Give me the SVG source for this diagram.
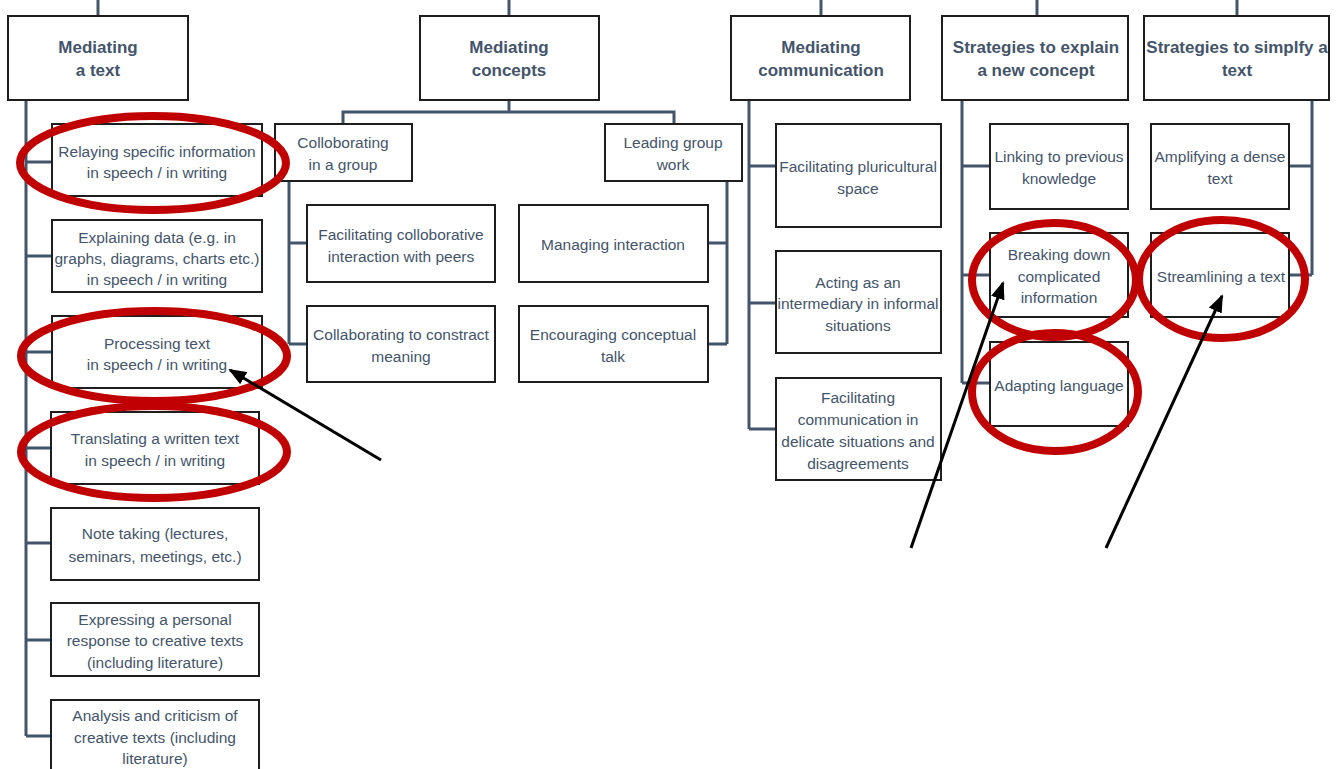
<svg xmlns="http://www.w3.org/2000/svg" width="1337" height="769" viewBox="0 0 1337 769">
  <style>
    .box { fill: #ffffff; stroke: #1e1e1e; stroke-width: 2; }
    .head { font-family: "Liberation Sans", Arial, sans-serif; font-weight: bold; font-size: 17px; fill: #44546a; text-anchor: middle; dominant-baseline: central; }
    .lbl { font-family: "Liberation Sans", Arial, sans-serif; font-size: 15.5px; fill: #44546a; text-anchor: middle; dominant-baseline: central; }
    .conn { fill: none; stroke: #44546a; stroke-width: 3; }
    .ring { fill: none; stroke: #c00000; stroke-width: 8; }
    .ptr { fill: none; stroke: #000000; stroke-width: 3; marker-end: url(#head); }
  </style>
  <defs>
    <marker id="head" markerUnits="userSpaceOnUse" markerWidth="18" markerHeight="14" refX="16" refY="7" orient="auto">
      <path d="M0,0 L18,7 L0,14 Z" fill="#000000"/>
    </marker>
  </defs>
  <rect width="1337" height="769" fill="#ffffff"/>

  <!-- tree connectors -->
  <g id="connectors" class="conn">
    <path d="M98,0 V16 M509,0 V16 M821,0 V16 M1037,0 V16 M1237,0 V16"/>
    <!-- Mediating a text -->
    <path d="M26,100 V736 M26,162 H52 M26,256 H52 M26,352 H52 M26,448 H51 M26,543 H51 M26,640 H51 M26,736 H51"/>
    <!-- Mediating concepts -->
    <path d="M509,100 V112 M343,124 V112 H674 V124"/>
    <path d="M289,181 V344 M289,243 H307 M289,344 H307"/>
    <path d="M727,181 V344 M708,243 H727 M708,344 H727"/>
    <!-- Mediating communication -->
    <path d="M749,100 V429 M749,166 H776 M749,303 H776 M749,429 H776"/>
    <!-- Strategies to explain -->
    <path d="M962,100 V383 M962,166 H990 M962,275 H990 M962,383 H990"/>
    <!-- Strategies to simplify -->
    <path d="M1312,100 V275 M1289,166 H1312 M1289,275 H1312"/>
  </g>

  <!-- top-level categories -->
  <g id="mediating-text">
    <rect class="box" x="8" y="16" width="180" height="84"/>
    <text class="head" x="98" y="47">Mediating</text>
    <text class="head" x="98" y="70">a text</text>
  </g>
  <g id="mediating-concepts">
    <rect class="box" x="420" y="16" width="179" height="84"/>
    <text class="head" x="509" y="47">Mediating</text>
    <text class="head" x="509" y="70">concepts</text>
  </g>
  <g id="mediating-communication">
    <rect class="box" x="731" y="16" width="179" height="84"/>
    <text class="head" x="821" y="47">Mediating</text>
    <text class="head" x="821" y="70">communication</text>
  </g>
  <g id="strategies-explain">
    <rect class="box" x="942" y="16" width="186" height="84"/>
    <text class="head" x="1036" y="47">Strategies to explain</text>
    <text class="head" x="1036" y="70">a new concept</text>
  </g>
  <g id="strategies-simplify">
    <rect class="box" x="1144" y="16" width="185" height="84"/>
    <text class="head" x="1237" y="47">Strategies to simplfy a</text>
    <text class="head" x="1237" y="70">text</text>
  </g>

  <!-- Mediating a text: activities -->
  <g id="relaying">
    <rect class="box" x="52" y="124" width="210" height="72"/>
    <text class="lbl" x="157" y="151">Relaying specific information</text>
    <text class="lbl" x="157" y="172">in speech / in writing</text>
  </g>
  <g id="explaining-data">
    <rect class="box" x="52" y="220" width="210" height="72"/>
    <text class="lbl" x="157" y="237">Explaining data (e.g. in</text>
    <text class="lbl" x="157" y="258">graphs, diagrams, charts etc.)</text>
    <text class="lbl" x="157" y="279">in speech / in writing</text>
  </g>
  <g id="processing-text">
    <rect class="box" x="52" y="316" width="210" height="72"/>
    <text class="lbl" x="157" y="343">Processing text</text>
    <text class="lbl" x="157" y="364">in speech / in writing</text>
  </g>
  <g id="translating">
    <rect class="box" x="51" y="412" width="208" height="72"/>
    <text class="lbl" x="155" y="438">Translating a written text</text>
    <text class="lbl" x="155" y="460">in speech / in writing</text>
  </g>
  <g id="note-taking">
    <rect class="box" x="51" y="508" width="208" height="72"/>
    <text class="lbl" x="155" y="533">Note taking (lectures,</text>
    <text class="lbl" x="155" y="556">seminars, meetings, etc.)</text>
  </g>
  <g id="personal-response">
    <rect class="box" x="51" y="603" width="208" height="73"/>
    <text class="lbl" x="155" y="619">Expressing a personal</text>
    <text class="lbl" x="155" y="640">response to creative texts</text>
    <text class="lbl" x="155" y="662">(including literature)</text>
  </g>
  <g id="analysis-criticism">
    <rect class="box" x="51" y="700" width="208" height="80"/>
    <text class="lbl" x="155" y="715">Analysis and criticism of</text>
    <text class="lbl" x="155" y="737">creative texts (including</text>
    <text class="lbl" x="155" y="758">literature)</text>
  </g>

  <!-- Mediating concepts: activities -->
  <g id="collaborating-group">
    <rect class="box" x="275" y="124" width="137" height="57"/>
    <text class="lbl" x="343" y="142">Colloborating</text>
    <text class="lbl" x="343" y="164">in a group</text>
  </g>
  <g id="leading-group">
    <rect class="box" x="605" y="124" width="137" height="57"/>
    <text class="lbl" x="673" y="142">Leading group</text>
    <text class="lbl" x="673" y="164">work</text>
  </g>
  <g id="facilitating-collaborative">
    <rect class="box" x="307" y="205" width="188" height="77"/>
    <text class="lbl" x="401" y="234">Facilitating colloborative</text>
    <text class="lbl" x="401" y="256">interaction with peers</text>
  </g>
  <g id="constructing-meaning">
    <rect class="box" x="307" y="306" width="188" height="76"/>
    <text class="lbl" x="401" y="334">Collaborating to constract</text>
    <text class="lbl" x="401" y="356">meaning</text>
  </g>
  <g id="managing-interaction">
    <rect class="box" x="519" y="205" width="189" height="77"/>
    <text class="lbl" x="613" y="244">Managing interaction</text>
  </g>
  <g id="conceptual-talk">
    <rect class="box" x="519" y="306" width="189" height="76"/>
    <text class="lbl" x="613" y="334">Encouraging conceptual</text>
    <text class="lbl" x="613" y="356">talk</text>
  </g>

  <!-- Mediating communication: activities -->
  <g id="pluricultural-space">
    <rect class="box" x="776" y="124" width="165" height="103"/>
    <text class="lbl" x="858" y="166">Facilitating pluricultural</text>
    <text class="lbl" x="858" y="188">space</text>
  </g>
  <g id="intermediary">
    <rect class="box" x="776" y="251" width="165" height="102"/>
    <text class="lbl" x="858" y="282">Acting as an</text>
    <text class="lbl" x="858" y="303">intermediary in informal</text>
    <text class="lbl" x="858" y="325">situations</text>
  </g>
  <g id="delicate-situations">
    <rect class="box" x="776" y="378" width="165" height="102"/>
    <text class="lbl" x="858" y="397">Facilitating</text>
    <text class="lbl" x="858" y="419">communication in</text>
    <text class="lbl" x="858" y="441">delicate situations and</text>
    <text class="lbl" x="858" y="463">disagreements</text>
  </g>

  <!-- Strategies to explain: items -->
  <g id="linking-knowledge">
    <rect class="box" x="990" y="124" width="138" height="85"/>
    <text class="lbl" x="1059" y="156">Linking to previous</text>
    <text class="lbl" x="1059" y="178">knowledge</text>
  </g>
  <g id="breaking-down">
    <rect class="box" x="990" y="233" width="138" height="84"/>
    <text class="lbl" x="1059" y="254">Breaking down</text>
    <text class="lbl" x="1059" y="276">complicated</text>
    <text class="lbl" x="1059" y="297">information</text>
  </g>
  <g id="adapting-language">
    <rect class="box" x="990" y="342" width="138" height="84"/>
    <text class="lbl" x="1059" y="385">Adapting language</text>
  </g>

  <!-- Strategies to simplify: items -->
  <g id="amplifying">
    <rect class="box" x="1151" y="124" width="138" height="85"/>
    <text class="lbl" x="1220" y="156">Amplifying a dense</text>
    <text class="lbl" x="1220" y="178">text</text>
  </g>
  <g id="streamlining">
    <rect class="box" x="1151" y="233" width="138" height="84"/>
    <text class="lbl" x="1221" y="276">Streamlining a text</text>
  </g>

  <!-- highlight rings -->
  <g id="highlights" class="ring">
    <ellipse cx="153" cy="163" rx="133" ry="47"/>
    <ellipse cx="154" cy="356" rx="133" ry="45"/>
    <ellipse cx="154" cy="452" rx="133" ry="46"/>
    <ellipse cx="1054" cy="280" rx="82" ry="57"/>
    <ellipse cx="1055" cy="392" rx="83" ry="59"/>
    <ellipse cx="1222" cy="279" rx="83" ry="59"/>
  </g>

  <!-- pointer arrows -->
  <g id="pointers">
    <line class="ptr" x1="381" y1="460" x2="230" y2="370"/>
    <line class="ptr" x1="911" y1="548" x2="1003" y2="283"/>
    <line class="ptr" x1="1106" y1="548" x2="1222" y2="296"/>
  </g>
</svg>
